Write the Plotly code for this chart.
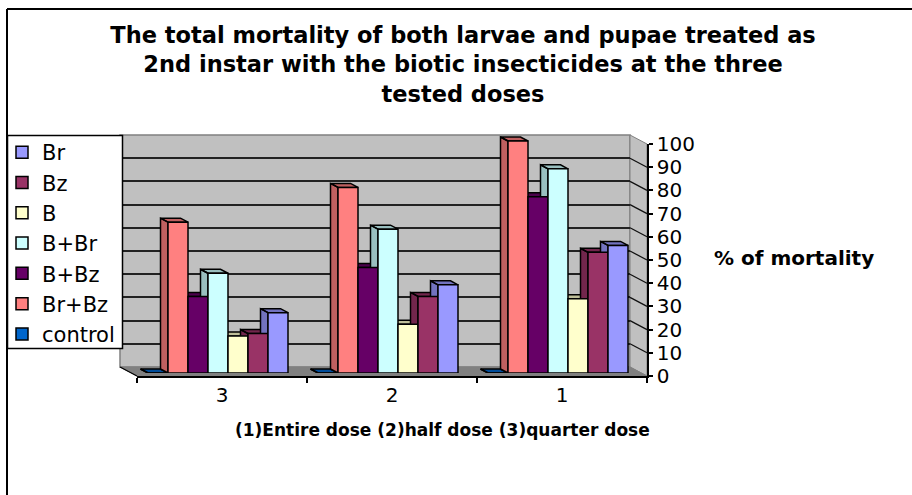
import plotly.graph_objects as go

# ---------- data ----------
categories = ["3", "2", "1"]
series_names = ["control", "Br+Bz", "B+Bz", "B+Br", "B", "Bz", "Br"]
control = [0, 0, 0]
br_bz = [65, 80, 100]
b_bz = [33, 45.5, 76]
b_br = [43, 62, 88]
b = [16, 21, 32]
bz = [17, 33, 52]
br = [26, 38, 55]
series_values = [control, br_bz, b_bz, b_br, b, bz, br]
colors = ["#0066CC", "#FF8080", "#660066", "#CCFFFF", "#FFFFCC", "#993366", "#9999FF"]
y_ticks = list(range(0, 101, 10))

TITLE = ("The total mortality of both larvae and pupae treated as<br>"
         "2nd instar with the biotic insecticides at the three<br>tested doses")
X_NOTE = "(1)Entire dose (2)half dose (3)quarter dose"
Y_NOTE = "% of mortality"
FONT = "DejaVu Sans"

# ---------- layout geometry (pixels of the 912x495 page) ----------
W, H = 912, 495
px = lambda p: p / W
py = lambda p: 1 - p / H
UNIT = 2.32           # pixels per percent
CAT_W = 170           # pixels per category
BARGAP = 30 / 170
DX, DY = -7.5 / CAT_W, 4 / UNIT   # depth of a bar, in data units


def shade(hex_color, f=0.75):
    r, g, b_ = (int(hex_color[i:i + 2], 16) for i in (1, 3, 5))
    return f"rgb({int(r * f)},{int(g * f)},{int(b_ * f)})"


fig = go.Figure()

# invisible anchor traces so the wall-grid and visible axes exist
fig.add_trace(go.Scatter(x=[0], y=[0], xaxis="x", yaxis="y", opacity=0,
                         showlegend=False, hoverinfo="skip", mode="markers"))

# bar depth faces (left side and top), left to right
bw = (1 - BARGAP) / len(series_names)
for i, (name, vals, col) in enumerate(zip(series_names, series_values, colors)):
    xs, ys = [], []
    for c, v in enumerate(vals):
        l = c + (i - len(series_names) / 2) * bw
        r = l + bw
        xs += [l, l + DX, l + DX, l, l, None, l, l + DX, r + DX, r, l, None]
        ys += [0, DY, v + DY, v, 0, None, v, v + DY, v + DY, v, v, None]
    fig.add_trace(go.Scatter(x=xs, y=ys, xaxis="x2", yaxis="y2", mode="lines",
                             fill="toself", fillcolor=shade(col),
                             line=dict(color="#000000", width=1.5),
                             showlegend=False, hoverinfo="skip"))

# front faces
for i, (name, vals, col) in enumerate(zip(series_names, series_values, colors)):
    fig.add_trace(go.Bar(x=list(range(len(categories))), y=vals, name=name,
                         legendgroup=name, legendrank=100 - i, xaxis="x3", yaxis="y3",
                         marker=dict(color=col, line=dict(color="#000000", width=1.5))))

fig.add_trace(go.Scatter(x=[0], y=[0], xaxis="x4", yaxis="y4", opacity=0,
                         showlegend=False, hoverinfo="skip", mode="markers"))

# ---------- walls & frame ----------
BL, BR_, BT, BB = 120, 630, 135, 367      # back wall
FL, FR, FT, FB = 137, 647, 144, 376       # front axis box


def poly(pts, fill, line="#808080", w=1, layer="below"):
    path = "M " + " L ".join(f"{px(x)},{py(y)}" for x, y in pts) + " Z"
    return dict(type="path", path=path, xref="paper", yref="paper",
                fillcolor=fill, line=dict(color=line, width=w), layer=layer)


def seg(x0, y0, x1, y1, color="#000000", w=2):
    return dict(type="line", xref="paper", yref="paper", x0=px(x0), y0=py(y0),
                x1=px(x1), y1=py(y1), line=dict(color=color, width=w), layer="below")


shapes = [
    poly([(BL, BT), (BR_, BT), (BR_, BB), (BL, BB)], "#C0C0C0", "#808080", 1.5),
    poly([(BR_, BT), (FR, FT), (FR, FB), (BR_, BB)], "#C0C0C0", "#808080", 1),
    poly([(BL, BB), (BR_, BB), (FR, FB), (FL, FB)], "#808080", "#808080", 1),
    seg(7, 9, W, 9), seg(7, 9, 7, H),
    seg(BL, BB, FL, FB, "#000000", 1.2),
    # legend box
    poly([(7.5, 135.5), (122.5, 135.5), (122.5, 348.5), (7.5, 348.5)], "#FFFFFF", "#000000", 1.5, "above"),
]
for t in y_ticks[1:-1]:
    shapes.append(seg(BR_, BB - t * (BB - BT) / 100, FR, FB - t * UNIT, "#111111", 1.3))

fig.update_layout(
    width=W, height=H, autosize=False,
    margin=dict(l=0, r=0, t=0, b=0, autoexpand=False),
    paper_bgcolor="#FFFFFF", plot_bgcolor="rgba(0,0,0,0)",
    barmode="group", bargap=BARGAP, bargroupgap=0,
    font=dict(family=FONT, color="#000000"),
    title=dict(text=TITLE, x=463 / W, xanchor="center", xref="paper",
               y=py(43), yanchor="top",
               font=dict(family=FONT, size=22.5, color="#000000", weight="bold")),
    shapes=shapes,
    showlegend=True,
    legend=dict(x=px(2), y=py(132), xanchor="left", yanchor="top",
                bgcolor="rgba(0,0,0,0)", borderwidth=0,
                font=dict(family=FONT, size=21, color="#000000"),
                traceorder="grouped", tracegroupgap=0),
    # back-wall gridlines
    xaxis=dict(domain=[px(BL), px(BR_)], range=[0, 1], visible=False, anchor="y"),
    yaxis=dict(domain=[py(BB), py(BT)], range=[0, 100], tickmode="array", tickvals=y_ticks[1:-1],
               showgrid=True, gridcolor="#222222", gridwidth=1.5, showticklabels=False,
               ticks="", showline=False, zeroline=False, anchor="x"),
    # depth faces
    xaxis2=dict(domain=[px(FL - 4), px(FR - 4)], range=[-0.5, 2.5], visible=False, anchor="y2"),
    yaxis2=dict(domain=[py(373), py(373 - 110 * UNIT)], range=[0, 110], visible=False, anchor="x2"),
    # front faces
    xaxis3=dict(domain=[px(FL - 4), px(FR - 4)], range=[-0.5, 2.5], visible=False, anchor="y3"),
    yaxis3=dict(domain=[py(373), py(373 - 110 * UNIT)], range=[0, 110], visible=False, anchor="x3"),
    # visible axes
    xaxis4=dict(domain=[px(FL), px(FR)], range=[-0.5, 2.5], anchor="y4",
                tickmode="array", tickvals=list(range(len(categories))), ticktext=categories,
                ticks="", ticklen=0, showline=True, linecolor="#000000", linewidth=2,
                showgrid=False, zeroline=False,
                tickfont=dict(family=FONT, size=20, color="#000000"),
                minor=dict(tickmode="array", tickvals=[-0.5, 0.5, 1.5, 2.5], ticks="outside",
                           ticklen=5, tickcolor="#000000", tickwidth=1.5, showgrid=False)),
    yaxis4=dict(domain=[py(FB), py(FT)], range=[0, 100], anchor="x4", side="right",
                tickmode="array", tickvals=y_ticks, ticks="outside", ticklen=4,
                tickcolor="#000000", tickwidth=1.5, showline=True, linecolor="#000000",
                linewidth=1.5, showgrid=False, zeroline=False,
                tickfont=dict(family=FONT, size=20, color="#000000")),
    annotations=[
        dict(text=f"<b>{X_NOTE}</b>", xref="paper", yref="paper", x=px(442), y=py(430),
             xanchor="center", yanchor="middle", showarrow=False,
             font=dict(family=FONT, size=17, color="#000000")),
        dict(text=f"<b>{Y_NOTE}</b>", xref="paper", yref="paper", x=px(794), y=py(258),
             xanchor="center", yanchor="middle", showarrow=False,
             font=dict(family=FONT, size=20, color="#000000")),
    ],
)

fig.write_html("out.html", config={"displayModeBar": False},
               post_script="document.body.style.margin='0';document.body.style.overflow='hidden';")
